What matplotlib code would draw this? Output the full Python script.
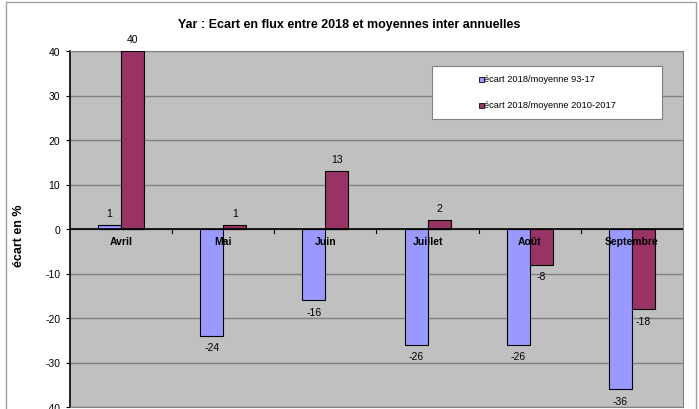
import numpy as np
import matplotlib.pyplot as plt
from matplotlib.patches import Rectangle

plt.rcParams['font.family'] = ['Liberation Sans', 'DejaVu Sans']
plt.rcParams['axes.unicode_minus'] = False

months = ['Avril', 'Mai', 'Juin', 'Juillet', 'Août', 'Septembre']
ecart_93_17 = [1, -24, -16, -26, -26, -36]
ecart_2010_2017 = [40, 1, 13, 2, -8, -18]
series_labels = ['écart 2018/moyenne 93-17', 'écart 2018/moyenne 2010-2017']
series_colors = ['#9999ff', '#993366']

W, H = 699, 410
fig = plt.figure(figsize=(W / 100, H / 100), dpi=100)


def fx(px):
    return px / W


def fy(py):
    return 1 - py / H


# outer chart frame
fig.patches.append(Rectangle((fx(6), -0.01), fx(690), fy(3) + 0.01,
                             transform=fig.transFigure, fill=False,
                             edgecolor='#a0a0a0', linewidth=1))
ax = fig.add_axes([fx(70), fy(408), fx(613), 356 / H])
ax.set_facecolor('#c0c0c0')

x = np.arange(len(months))
w = 0.225
b1 = ax.bar(x - w / 2, ecart_93_17, w, color=series_colors[0], edgecolor='black',
            linewidth=0.8, zorder=3)
b2 = ax.bar(x + w / 2, ecart_2010_2017, w, color=series_colors[1], edgecolor='black',
            linewidth=0.8, zorder=3)

for bars, vals in ((b1, ecart_93_17), (b2, ecart_2010_2017)):
    for rect, v in zip(bars, vals):
        cx = rect.get_x() + rect.get_width() / 2
        if v >= 0:
            ax.text(cx, v + 1.5, f'{v}', ha='center', va='bottom', fontsize=7.5, zorder=5)
        else:
            ax.text(cx, v - 1.5, f'{v}', ha='center', va='top', fontsize=7.5, zorder=5)

for xi, m in zip(x, months):
    ax.text(xi, -1.5, m, ha='center', va='top', fontsize=7.5,
            fontweight='bold', zorder=6)

ax.set_xlim(-0.5, len(months) - 0.5)
ax.set_ylim(-40, 40)
ax.set_yticks(np.arange(-40, 41, 10))
ax.yaxis.grid(True, color='#808080', linewidth=1, zorder=1)
ax.axhline(0, color='black', linewidth=1.2, zorder=4)
ax.set_xticks([])
for b in np.arange(0.5, len(months) - 1, 1):
    ax.plot([b, b], [0, -0.8], color='black', linewidth=0.8, zorder=4)

ax.tick_params(axis='y', labelsize=7.5, length=3, width=0.8, pad=4)
ax.spines['left'].set_color('black')
ax.spines['left'].set_linewidth(1.2)
for s in ('top', 'right', 'bottom'):
    ax.spines[s].set_color('#808080')

ax.set_ylabel('écart en %', fontsize=9, fontweight='bold')
ax.yaxis.set_label_coords((25 - 70) / 613, 0.483)
fig.text(0.5, fy(25), 'Yar : Ecart en flux entre 2018 et moyennes inter annuelles',
         ha='center', va='center', fontsize=9, fontweight='bold')

# legend box drawn by hand (wide Excel-style frame)
fig.patches.append(Rectangle((fx(432), fy(120)), fx(230), 53 / H,
                             transform=fig.transFigure, facecolor='white',
                             edgecolor='#808080', linewidth=0.8, zorder=10))
for i, (lab, col) in enumerate(zip(series_labels, series_colors)):
    yy = fy(80 + 26 * i)
    fig.patches.append(Rectangle((fx(479), yy - 2.5 / H), fx(5), 5 / H,
                                 transform=fig.transFigure, facecolor=col,
                                 edgecolor='#202020', linewidth=0.7, zorder=11))
    fig.text(fx(484), yy, lab, ha='left', va='center', fontsize=6.7, zorder=12)

fig.savefig('out.png', dpi=100)
